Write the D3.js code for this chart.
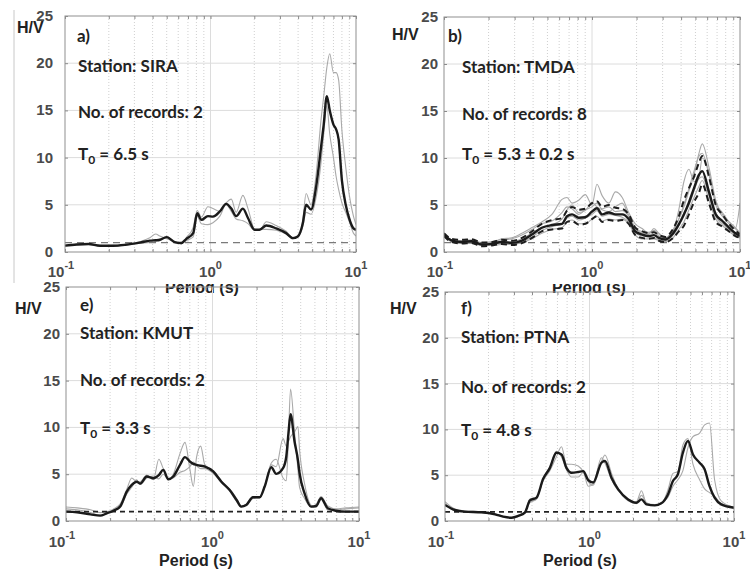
<!DOCTYPE html>
<html>
<head>
<meta charset="utf-8">
<script src="https://cdn.jsdelivr.net/npm/d3@7"></script>
<style>
body{margin:0;background:#fff}
svg{display:block}
.tick line{stroke:#8a8a8a}
.domain{display:none}
</style>
</head>
<body>
<svg id="chart"></svg>
<script>
// ---- data ----
var yTicks = [0,5,10,15,20,25]
var xMajor = [0.1,1,10]
var xMajorExp = ["-1","0","1"]
var xMinor = [0.2,0.3,0.4,0.5,0.6,0.7,0.8,0.9,2,3,4,5,6,7,8,9]

// a) SIRA
var periodsA = [0.1,0.12,0.145,0.174,0.214,0.26,0.327,0.383,0.42,0.448,0.5,0.567,0.63,0.68,0.76,0.81,0.865,0.96,1.04,1.16,1.28,1.39,1.5,1.67,1.81,2.01,2.17,2.42,2.83,3.31,3.68,3.98,4.31,4.54,4.91,5.32,5.75,6.0,6.3,6.6,7.0,7.3,7.6,8.0,8.5,9.0,9.6,10]
var meanA = [0.67,0.8,0.85,0.67,0.67,0.77,1.0,1.2,1.25,1.3,1.58,1.05,0.95,1.37,2.0,4.1,3.4,3.8,3.75,4.3,5.1,4.6,3.8,4.6,3.6,2.35,2.35,2.8,2.5,2.0,1.47,1.65,3.05,5.0,4.5,6.9,11.1,13.5,16.5,15.0,13.5,13.0,11.9,7.6,5.0,3.5,2.5,2.35]
var recA1 = [0.7,0.8,0.9,0.7,0.6,0.7,1.1,1.5,1.9,1.7,1.4,1.1,0.85,1.5,2.6,4.4,3.7,4.8,4.6,4.3,5.2,5.6,4.2,6.0,4.6,2.4,2.3,3.2,2.8,2.2,1.5,1.6,3.4,6.2,5.0,8.2,14.0,16.5,19.5,21.0,19.0,19.0,18.2,12.9,9.0,6.0,3.8,2.9]
var recA2 = [0.65,0.75,0.8,0.65,0.7,0.8,0.95,1.0,1.1,1.2,1.65,1.0,0.9,1.2,1.6,3.8,3.0,2.9,3.1,3.8,5.0,4.3,3.5,3.3,3.0,2.3,2.4,2.4,2.3,1.9,1.4,1.6,2.7,4.2,4.0,5.8,9.5,12.5,15.5,12.5,10.0,8.0,6.6,5.2,4.2,3.2,2.0,1.7]

// b) TMDA
var periodsB = [0.1,0.113,0.132,0.154,0.18,0.21,0.245,0.287,0.336,0.393,0.458,0.536,0.627,0.678,0.733,0.813,0.901,1.0,1.08,1.17,1.3,1.44,1.6,1.77,1.96,2.18,2.42,2.62,2.83,3.14,3.48,3.86,4.18,4.52,4.89,5.28,5.56,6.17,6.86,7.6,8.43,9.3,10]
var meanB = [1.86,1.22,1.07,1.15,0.79,0.86,1.07,0.97,1.22,1.86,2.58,2.87,3.0,3.8,4.0,3.65,3.7,4.3,4.66,4.0,4.2,4.0,4.0,3.5,2.2,1.86,1.7,1.8,1.5,1.33,1.86,2.94,4.0,5.27,6.8,8.2,8.6,6.4,4.0,3.3,2.6,2.0,1.7]
var upperB = [2.0,1.4,1.3,1.35,1.0,1.05,1.3,1.2,1.5,2.2,3.0,3.4,3.6,4.4,4.8,4.5,4.6,5.2,5.4,4.8,5.0,4.7,4.6,4.0,2.6,2.2,2.0,2.1,1.8,1.6,2.3,3.8,5.5,6.8,8.0,9.5,10.2,8.0,5.0,4.0,3.0,2.3,1.9]
var lowerB = [1.7,1.05,0.9,0.95,0.6,0.7,0.85,0.75,0.95,1.5,2.2,2.4,2.5,3.2,3.3,2.9,3.0,3.5,3.8,3.2,3.4,3.3,3.4,3.0,1.8,1.5,1.4,1.5,1.2,1.05,1.4,2.2,2.8,4.0,5.3,6.3,7.2,5.2,3.2,2.7,2.2,1.7,1.5]
var recB1 = [1.9,1.3,1.2,1.2,0.9,1.0,1.4,1.5,2.0,2.6,3.2,4.0,5.6,5.8,5.2,5.5,6.1,5.0,7.2,6.0,5.2,6.4,5.8,4.2,3.0,2.5,2.0,2.3,1.9,1.5,2.2,3.5,4.8,6.5,8.2,10.5,11.5,9.0,5.5,4.0,3.2,2.6,2.0]
var recB2 = [1.8,1.1,1.0,1.1,0.8,0.9,1.1,1.1,1.4,2.0,2.6,2.9,3.5,4.5,5.0,4.2,4.4,5.3,4.8,4.5,4.3,4.8,5.2,3.9,2.6,2.0,1.9,2.5,2.0,1.4,2.0,4.5,7.5,8.8,7.5,8.0,10.0,8.5,5.0,3.8,3.0,2.5,5.2]
var recB3 = [1.8,1.2,1.1,1.0,0.8,0.8,0.9,0.9,1.1,1.6,2.3,2.7,3.0,3.6,3.8,3.4,3.6,4.0,4.4,3.8,4.0,3.9,3.7,3.2,2.0,1.7,1.6,1.5,1.3,1.2,1.7,2.8,4.2,5.0,6.5,7.8,8.0,6.0,3.8,3.0,2.4,1.8,1.6]
var recB4 = [1.7,1.1,0.9,0.9,0.7,0.7,0.8,0.8,1.0,1.4,2.0,2.4,2.6,3.2,3.4,3.0,3.0,3.5,3.8,3.3,3.5,3.4,3.5,3.0,1.8,1.4,1.4,1.4,1.2,1.1,1.4,2.4,3.2,4.5,5.8,7.0,7.6,5.5,3.5,2.8,2.2,1.7,1.5]
var recB5 = [1.9,1.3,1.2,1.3,1.0,1.1,1.3,1.4,1.8,2.4,3.0,3.3,4.2,4.8,4.6,4.0,4.5,4.8,5.2,4.6,4.8,4.3,4.4,3.8,2.4,2.2,2.1,2.2,1.7,1.5,2.1,3.5,5.0,6.8,8.6,10.2,10.5,8.2,5.2,4.2,3.2,2.5,2.0]

// e) KMUT
var periodsE = [0.1,0.119,0.147,0.171,0.19,0.211,0.234,0.26,0.281,0.304,0.321,0.356,0.395,0.43,0.461,0.499,0.54,0.6,0.649,0.7,0.74,0.778,0.83,0.887,1.01,1.15,1.31,1.46,1.57,1.7,1.89,2.1,2.27,2.52,2.72,3.03,3.19,3.3,3.41,3.63,3.83,3.93,4.25,4.71,5.1,5.51,6.12,6.98,8.16,10]
var meanE = [1.0,0.93,0.71,0.57,0.82,1.1,1.54,3.14,3.86,4.2,4.0,4.75,4.57,4.9,5.46,4.46,4.75,6.0,6.82,6.36,6.1,6.0,5.9,5.82,5.29,4.2,3.3,2.25,1.54,1.71,2.54,2.54,3.68,5.75,5.04,5.64,6.89,9.4,11.4,8.5,6.5,5.1,2.96,1.54,1.6,2.43,1.36,1.1,1.0,1.0]
var recE1 = [1.3,1.2,0.9,0.6,0.8,1.3,1.8,3.4,4.6,4.2,4.2,4.9,4.4,6.6,5.6,4.4,5.0,7.2,8.4,5.6,3.7,6.8,8.0,6.0,5.4,4.3,3.2,2.1,1.5,1.7,2.4,2.5,3.6,6.2,6.6,4.6,4.3,9.0,14.1,9.5,5.5,3.6,2.4,1.5,1.8,2.6,1.6,1.3,1.4,1.5]
var recE2 = [1.5,1.4,1.2,0.9,1.0,1.2,1.4,2.9,3.6,4.4,3.9,4.6,4.8,4.5,5.0,4.5,4.6,5.2,5.4,5.8,6.3,5.9,5.6,5.6,5.1,4.1,3.4,2.4,1.6,1.8,2.6,2.6,3.8,6.0,5.8,8.8,8.0,8.5,9.0,9.5,10.1,7.6,4.0,1.7,1.5,2.3,1.2,1.2,1.3,1.4]

// f) PTNA
var periodsF = [0.1,0.117,0.137,0.179,0.222,0.253,0.289,0.321,0.357,0.387,0.43,0.478,0.532,0.59,0.64,0.693,0.751,0.835,0.904,0.98,1.06,1.21,1.28,1.42,1.58,1.85,2.11,2.29,2.48,2.83,3.14,3.49,3.78,4.09,4.43,4.8,5.2,5.78,6.26,6.77,7.34,8.15,10]
var meanF = [1.75,1.2,1.02,0.95,0.73,0.47,0.36,0.55,0.91,2.25,2.55,4.6,5.8,7.45,7.27,5.8,5.27,5.35,5.45,4.47,4.2,6.36,6.55,4.73,3.45,2.36,2.0,2.36,1.82,1.71,1.93,2.9,4.36,5.1,7.45,8.73,7.27,6.36,5.64,3.8,2.55,1.82,1.45]
var recF1 = [2.1,1.3,1.1,1.0,0.8,0.5,0.3,0.5,1.0,2.4,2.6,4.4,5.5,7.0,8.1,6.2,6.2,6.0,5.4,4.3,3.9,6.5,7.2,5.2,3.5,2.2,1.9,2.8,2.0,1.7,2.0,2.6,3.8,4.5,5.5,8.0,9.2,9.6,10.5,10.7,4.5,2.2,1.5]
var recF2 = [1.9,1.1,1.0,0.9,0.75,0.45,0.35,0.6,1.0,2.0,2.4,4.6,5.9,7.6,7.0,5.6,4.8,4.8,5.3,3.8,4.0,6.9,6.3,4.5,3.3,2.4,2.1,3.3,1.9,1.8,1.9,3.4,5.2,5.4,8.3,9.0,6.2,4.5,3.5,3.1,2.7,1.9,1.5]

// ---- layout ----
var screen = {width:750, height:572}

var frames = [
  {left:65, right:356, top:16, bottom:252, yGap:12, hv:[17,33], tag:[77,42], textX:78, textY:[72,118,160], xlab:[202,293,284], xtickY:277, refColor:"#7a7a7a", refWidth:1.3, refDash:"7,5"},
  {left:444, right:740, top:17, bottom:252, yGap:6, hv:[392,40], tag:[448,42], textX:462, textY:[73,120,160], xlab:[589,293,284], xtickY:277, refColor:"#7a7a7a", refWidth:1.3, refDash:"7,5"},
  {left:66, right:359, top:287, bottom:521, yGap:6, hv:[15,314], tag:[80,311], textX:80, textY:[339,386,434], xlab:[196,566,0], xtickY:547, refColor:"#222", refWidth:1.6, refDash:"5,4"},
  {left:445, right:734, top:292, bottom:521, yGap:6, hv:[390,314], tag:[461,314], textX:461, textY:[343,393,436], xlab:[580,566,0], xtickY:547, refColor:"#222", refWidth:1.6, refDash:"5,4"}
]

var panels = [
  {tag:"a)", station:"SIRA", count:"2", t0:" = 6.5 s", periods:periodsA, mean:meanA, recs:[recA1,recA2], dashed:[]},
  {tag:"b)", station:"TMDA", count:"8", t0:" = 5.3 \u00b1 0.2 s", periods:periodsB, mean:meanB, recs:[recB1,recB2,recB3,recB4,recB5], dashed:[upperB,lowerB]},
  {tag:"e)", station:"KMUT", count:"2", t0:" = 3.3 s", periods:periodsE, mean:meanE, recs:[recE1,recE2], dashed:[]},
  {tag:"f)", station:"PTNA", count:"2", t0:" = 4.8 s", periods:periodsF, mean:meanF, recs:[recF1,recF2], dashed:[]}
]

var svg = d3.select("#chart")
  .attr("width",screen.width)
  .attr("height",screen.height)

var tickFont = "'Liberation Sans', Arial, sans-serif"
var noteFont = "Lato, 'Open Sans', sans-serif"

// faint border of the cropped first image
svg.append("line")
  .attr("x1",14).attr("x2",14).attr("y1",10).attr("y2",283)
  .attr("stroke","#c8c8c8").attr("stroke-width",1)

var drawPanel = function(p, f, i)
{
  var xScale = d3.scaleLog().domain([0.1,10]).range([f.left,f.right])
  var yScale = d3.scaleLinear().domain([0,25]).range([f.bottom,f.top])

  var g = svg.append("g").attr("id","panel"+i)

  g.append("clipPath").attr("id","clip"+i)
    .append("rect")
    .attr("x",f.left).attr("y",f.top)
    .attr("width",f.right-f.left).attr("height",f.bottom-f.top)

  // grid
  g.append("g").selectAll("line")
    .data(xMinor).enter().append("line")
    .attr("x1",function(d){return xScale(d)}).attr("x2",function(d){return xScale(d)})
    .attr("y1",f.top).attr("y2",f.bottom)
    .attr("stroke","#c4c4c4").attr("stroke-width",0.8).attr("stroke-dasharray","1,2")
  g.append("line")
    .attr("x1",xScale(1)).attr("x2",xScale(1))
    .attr("y1",f.top).attr("y2",f.bottom)
    .attr("stroke","#dcdcdc").attr("stroke-width",1)
  g.append("g").selectAll("line")
    .data(yTicks.slice(1,5)).enter().append("line")
    .attr("x1",f.left).attr("x2",f.right)
    .attr("y1",function(d){return yScale(d)}).attr("y2",function(d){return yScale(d)})
    .attr("stroke","#dcdcdc").attr("stroke-width",1)

  // inside ticks on all four sides
  g.append("g").attr("transform","translate(0,"+f.bottom+")")
    .call(d3.axisBottom(xScale).tickValues(xMinor.concat(xMajor)).tickSize(-3).tickFormat(""))
  g.append("g").attr("transform","translate(0,"+f.top+")")
    .call(d3.axisTop(xScale).tickValues(xMinor.concat(xMajor)).tickSize(-3).tickFormat(""))
  g.append("g").attr("transform","translate("+f.left+",0)")
    .call(d3.axisLeft(yScale).tickValues(yTicks).tickSize(-3).tickFormat(""))
  g.append("g").attr("transform","translate("+f.right+",0)")
    .call(d3.axisRight(yScale).tickValues(yTicks).tickSize(-3).tickFormat(""))

  var line = d3.line()
    .x(function(d){return xScale(d[0])})
    .y(function(d){return yScale(d[1])})
    .curve(d3.curveMonotoneX)

  var plot = g.append("g").attr("clip-path","url(#clip"+i+")")

  plot.selectAll("path.rec")
    .data(p.recs).enter().append("path")
    .attr("class","rec")
    .attr("d",function(vals){return line(d3.zip(p.periods,vals))})
    .attr("fill","none").attr("stroke","#a9a9a9").attr("stroke-width",1.1)

  plot.append("path")
    .attr("d",line([[0.1,1],[10,1]]))
    .attr("fill","none").attr("stroke",f.refColor)
    .attr("stroke-width",f.refWidth).attr("stroke-dasharray",f.refDash)

  plot.selectAll("path.std")
    .data(p.dashed).enter().append("path")
    .attr("class","std")
    .attr("d",function(vals){return line(d3.zip(p.periods,vals))})
    .attr("fill","none").attr("stroke","#1e1e1e").attr("stroke-width",2)
    .attr("stroke-dasharray","6,4")

  plot.append("path")
    .attr("d",line(d3.zip(p.periods,p.mean)))
    .attr("fill","none").attr("stroke","#1a1a1a").attr("stroke-width",2.4)

  // frame
  g.append("rect")
    .attr("x",f.left).attr("y",f.top)
    .attr("width",f.right-f.left).attr("height",f.bottom-f.top)
    .attr("fill","none").attr("stroke","#8f8f8f").attr("stroke-width",1)

  // y tick labels
  g.append("g").selectAll("text")
    .data(yTicks).enter().append("text")
    .attr("x",f.left-f.yGap)
    .attr("y",function(d){return yScale(d)+5})
    .attr("text-anchor","end")
    .attr("font-family",tickFont).attr("font-weight","bold").attr("font-size",15)
    .attr("fill","#4a4a4a")
    .text(function(d){return d})

  // x tick labels 10^n
  var xl = g.append("g").selectAll("text")
    .data(xMajor).enter().append("text")
    .attr("x",function(d,k){return xScale(d)-(k==0?4:0)})
    .attr("y",f.xtickY)
    .attr("text-anchor","middle")
    .attr("font-family",tickFont).attr("font-weight","bold").attr("font-size",15)
    .attr("fill","#4a4a4a")
  xl.append("tspan").text("10")
  xl.append("tspan")
    .attr("dy",-8).attr("font-size",11)
    .text(function(d,k){return xMajorExp[k]})

  // axis title (upper ones are cut by the lower images)
  var xt = g.append("text")
    .attr("x",f.xlab[0]).attr("y",f.xlab[1])
    .attr("text-anchor","middle")
    .attr("font-family",tickFont).attr("font-weight","bold").attr("font-size",16)
    .attr("fill","#222")
    .text("Period (s)")
  if(f.xlab[2]>0)
  {
    g.append("clipPath").attr("id","tclip"+i)
      .append("rect").attr("x",f.xlab[0]-60).attr("y",f.xlab[2]).attr("width",120).attr("height",20)
    xt.attr("clip-path","url(#tclip"+i+")")
  }

  g.append("text")
    .attr("x",f.hv[0]).attr("y",f.hv[1])
    .attr("font-family",tickFont).attr("font-weight","bold").attr("font-size",16)
    .attr("fill","#222")
    .text("H/V")

  g.append("text")
    .attr("x",f.tag[0]).attr("y",f.tag[1])
    .attr("font-family",noteFont).attr("font-weight","bold").attr("font-size",17)
    .attr("fill","#222")
    .text(p.tag)

  var notes = ["Station: "+p.station, "No. of records: "+p.count]
  g.append("g").selectAll("text")
    .data(notes).enter().append("text")
    .attr("x",f.textX)
    .attr("y",function(d,k){return f.textY[k]})
    .attr("font-family",noteFont).attr("font-weight","bold").attr("font-size",17)
    .attr("fill","#222")
    .text(function(d){return d})

  var t0 = g.append("text")
    .attr("x",f.textX).attr("y",f.textY[2])
    .attr("font-family",noteFont).attr("font-weight","bold").attr("font-size",17)
    .attr("fill","#222")
  t0.append("tspan").text("T")
  t0.append("tspan").attr("dy",4).attr("font-size",12).text("0")
  t0.append("tspan").attr("dy",-4).text(p.t0)
}

panels.forEach(function(p,i){ drawPanel(p, frames[i], i) })
</script>
</body>
</html>
